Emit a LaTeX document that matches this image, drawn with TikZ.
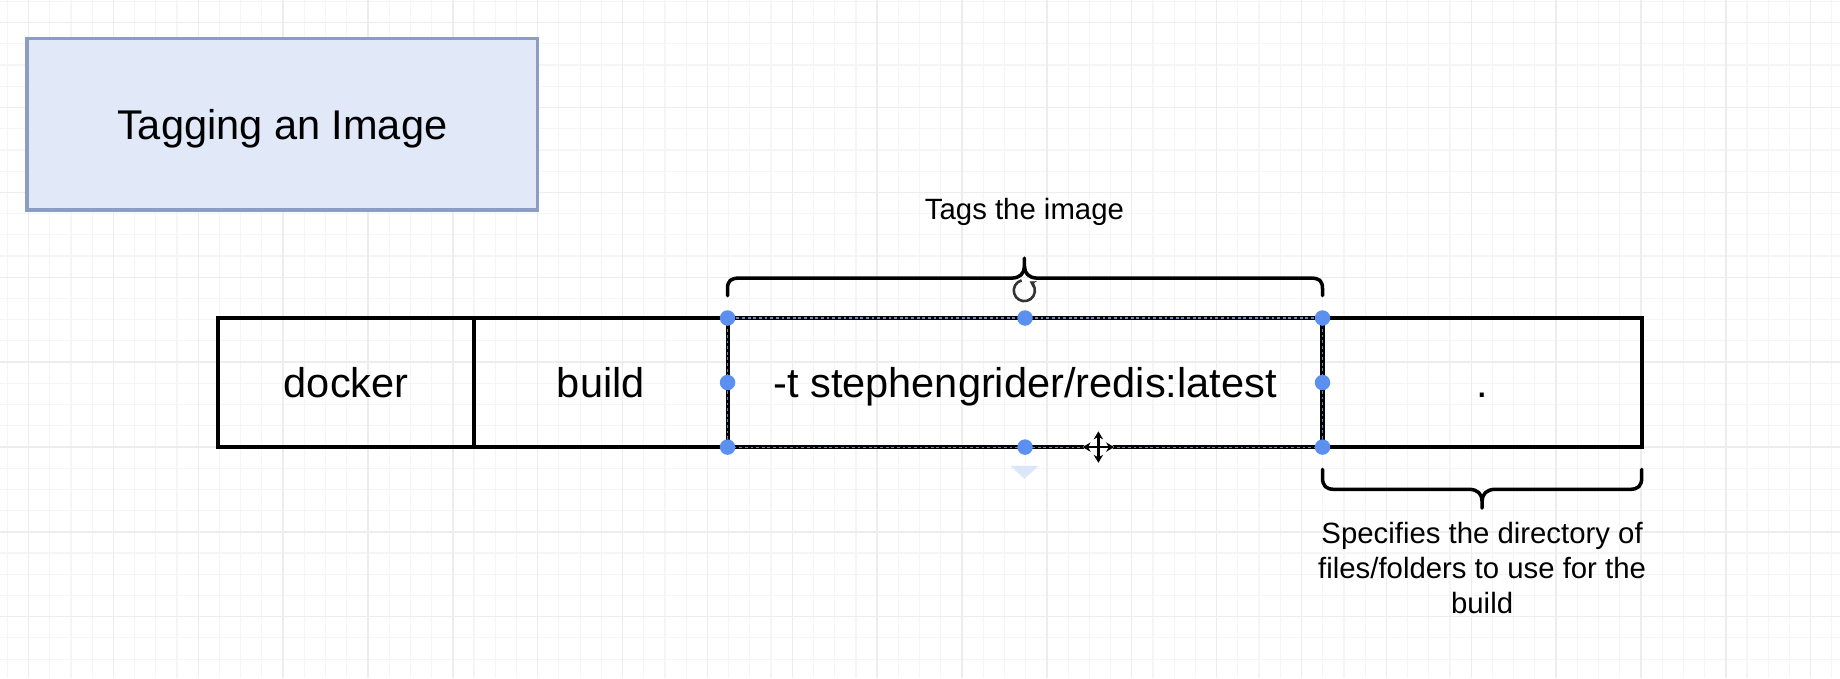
\documentclass[tikz,border=0pt]{standalone}
\usepackage{fontspec}
\setmainfont{Liberation Sans}
\usetikzlibrary{positioning,arrows.meta}

\definecolor{titlefill}{HTML}{E1E8F8}
\definecolor{titleline}{HTML}{8C9DC4}
\definecolor{handleblue}{HTML}{5B8FF0}
\definecolor{gridminor}{HTML}{F5F5F5}
\definecolor{gridmajor}{HTML}{EDEDED}
\definecolor{dropblue}{HTML}{DCE6F9}

\tikzset{
    cell/.style={draw, line width=1.75pt, minimum height=55pt, inner sep=0pt, outer sep=0pt,
        font=\fontsize{17.7pt}{20pt}\selectfont, text height=12.7pt, text depth=0pt},
    note/.style={align=center, font=\fontsize{12.5pt}{14.75pt}\selectfont},
    brace/.style={line width=1.5pt, line cap=round, line join=round},
    handle/.style={fill=handleblue},
}

\begin{document}
\begin{tikzpicture}[x=0.5pt, y=-0.5pt]
        \useasboundingbox (0,0) rectangle (1568,578);
        \fill[white] (0,0) rectangle (1568,578);

        % background grid
        \foreach \k in {0,...,86} {
            \draw[gridminor, line width=0.5pt] (6.2+18.08*\k, 0) -- (6.2+18.08*\k, 578);
        }
        \foreach \k in {0,...,31} {
            \draw[gridminor, line width=0.5pt] (0, 1.2+18.08*\k) -- (1568, 1.2+18.08*\k);
        }
        \foreach \k in {-1,...,20} {
            \draw[gridmajor, line width=0.6pt] (96.6+72.32*\k, 0) -- (96.6+72.32*\k, 578);
        }
        \foreach \k in {0,...,7} {
            \draw[gridmajor, line width=0.6pt] (0, 19.3+72.32*\k) -- (1568, 19.3+72.32*\k);
        }

        \node[draw=titleline, fill=titlefill, line width=1.5pt, minimum width=217.5pt, minimum height=73pt,
            font=\fontsize{17.7pt}{20pt}\selectfont, text height=12.7pt, text depth=0pt] (title) at (240.5, 106) {Tagging an Image};

        % the command
        \node[cell, minimum width=109pt] (docker) at (295, 326) {docker};
        \node[cell, minimum width=108pt, right=0pt of docker] (build) {build};
        \node[cell, minimum width=253.5pt, right=0pt of build] (tag) {-t stephengrider/redis:latest};
        \node[cell, minimum width=136pt, right=0pt of tag] (dot) {.};

        % selection marks
        \draw[handleblue!50!gray, line width=0.5pt, dash pattern=on 1.2pt off 1.2pt] (tag.north west) rectangle (tag.south east);
        \foreach \a in {north west, north, north east, west, east, south west, south, south east} {
            \fill[handle] (tag.\a) circle (3.3pt);
        }

        % braces
        \draw[brace] (620, 252) -- (620, 246) .. controls (620, 239) and (623, 237) .. (630, 237) -- (862, 237)
            .. controls (869, 237) and (873, 233) .. (873, 227) -- (873, 220);
        \draw[brace] (873, 227) .. controls (873, 233) and (877, 237) .. (884, 237) -- (1117, 237)
            .. controls (1124, 237) and (1127, 239) .. (1127, 246) -- (1127, 252);
        \draw[brace] (1127, 400) -- (1127, 407) .. controls (1127, 414) and (1130, 417) .. (1137, 417) -- (1252, 417)
            .. controls (1259, 417) and (1263, 421) .. (1263, 427) -- (1263, 433);
        \draw[brace] (1263, 427) .. controls (1263, 421) and (1267, 417) .. (1274, 417) -- (1389, 417)
            .. controls (1396, 417) and (1399, 414) .. (1399, 407) -- (1399, 400);

        \node[note] (tagnote) at (873, 181) {Tags the image};
        \node[note] (dirnote) at (1263, 484) {Specifies the directory of\\files/folders to use for the\\build};

        % editor icons
        \node[circle, inner sep=0pt, minimum size=9pt] (rot) at (873, 248) {};
        \draw[black!80, line width=1.1pt, -{Stealth[length=2.6pt, width=3.2pt]}] (rot.105) arc[start angle=105, end angle=420, radius=4.5pt];
        \node[inner sep=0pt, minimum size=13pt] (mv) at (936, 381) {};
        \fill[white] (mv.west) -- (mv.north) -- (mv.east) -- (mv.south) -- cycle;
        \draw[line width=1.1pt, {Stealth[length=3.4pt, width=4pt]}-{Stealth[length=3.4pt, width=4pt]}] (mv.west) -- (mv.east);
        \draw[line width=1.1pt, {Stealth[length=3.4pt, width=4pt]}-{Stealth[length=3.4pt, width=4pt]}] (mv.north) -- (mv.south);
        \fill[dropblue] (861, 397) -- (885, 397) -- (873, 408) -- cycle;
    \end{tikzpicture}
\end{document}
